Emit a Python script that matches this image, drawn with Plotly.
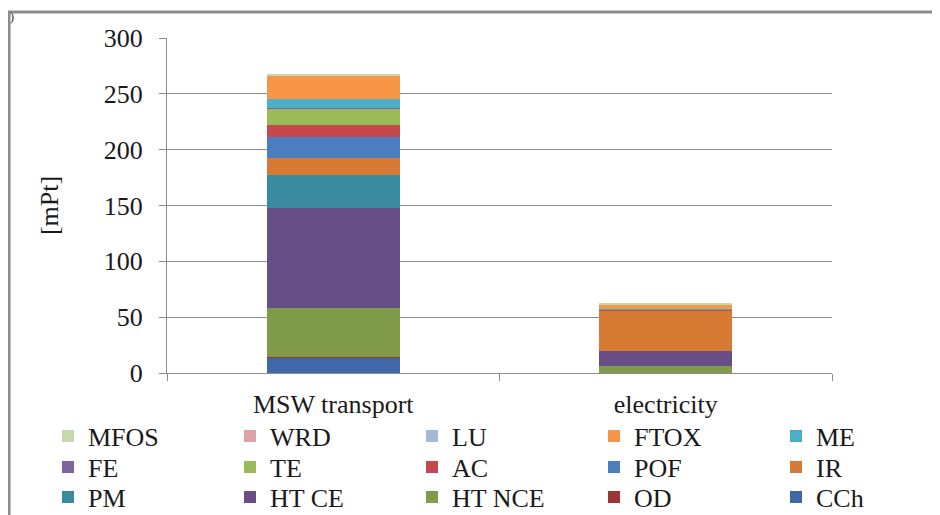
import plotly.graph_objects as go

categories = ["MSW transport", "electricity"]

# stacking order: bottom to top
impact_names = ["CCh", "OD", "HT NCE", "HT CE", "PM", "IR", "POF", "AC",
                "TE", "FE", "ME", "FTOX", "LU", "WRD", "MFOS"]
msw_transport = [14.0, 0.6, 43.3, 90.1, 29.3, 15.0, 19.3, 10.5,
                 14.9, 0.2, 7.9, 21.4, 0.2, 0.1, 0.1]
electricity = [0.3, 0.05, 6.0, 13.6, 0.2, 35.8, 0.2, 0.8,
               0.1, 0.05, 0.1, 4.5, 0.05, 0.02, 0.03]
colors = ["#3f68a8", "#9c3634", "#7f9a48", "#674e86", "#3a8aa0", "#d67a34",
          "#4a7ec0", "#c4484c", "#9bbb59", "#8064a2", "#4bafc8", "#f79646",
          "#a6b9db", "#dca2a6", "#c6d8ad"]

FONT = "'Times New Roman', 'Liberation Serif', 'DejaVu Serif', serif"
W, H = 940, 515
OFF = 8  # the page puts the figure 8px in from the top-left corner
GREY = "#8c8c8c"

# legend rows as in the original (top row first): 3 legends, 5 entries each
legend_rows = [["MFOS", "WRD", "LU", "FTOX", "ME"],
               ["FE", "TE", "AC", "POF", "IR"],
               ["PM", "HT CE", "HT NCE", "OD", "CCh"]]
legend_ids = ["legend", "legend2", "legend3"]
row_of = {n: i for i, row in enumerate(legend_rows) for n in row}

fig = go.Figure()
for name, a, b, c in zip(impact_names, msw_transport, electricity, colors):
    fig.add_trace(go.Bar(x=categories, y=[a, b], name=name, marker_color=c,
                         marker_line_width=0, legend=legend_ids[row_of[name]]))

legend_y = [428, 459, 489]
legend_common = dict(orientation="h", traceorder="reversed",
                     x=40 / W, xanchor="left", yanchor="middle",
                     entrywidth=137, entrywidthmode="pixels",
                     font=dict(family=FONT, size=26), bgcolor="rgba(0,0,0,0)")

fig.update_layout(
    barmode="stack",
    bargap=0.6,
    width=W, height=H,
    margin=dict(l=0, r=0, t=0, b=0, autoexpand=False),
    paper_bgcolor="white", plot_bgcolor="white",
    font=dict(family=FONT, size=26, color="#1a1a1a"),
    legend=dict(legend_common, y=1 - legend_y[0] / H),
    legend2=dict(legend_common, y=1 - legend_y[1] / H),
    legend3=dict(legend_common, y=1 - legend_y[2] / H),
    xaxis=dict(domain=[(167 - OFF) / W, (832 - OFF) / W], showline=True,
               linecolor=GREY, linewidth=1, ticks="outside",
               tickson="boundaries", ticklen=7, tickcolor=GREY,
               ticklabelstandoff=8, automargin=False,
               tickfont=dict(family=FONT, size=26)),
    yaxis=dict(domain=[1 - (373 - OFF) / H, 1 - (38 - OFF) / H],
               range=[0, 300], dtick=50,
               showline=True, linecolor=GREY, linewidth=1, ticks="outside",
               ticklen=7, tickcolor=GREY, ticklabelstandoff=11,
               showgrid=True, gridcolor=GREY, gridwidth=1, automargin=False,
               tickfont=dict(family=FONT, size=26),
               title=dict(text="[mPt]", standoff=37,
                          font=dict(family=FONT, size=26))),
)

# outer frame of the original figure
fig.add_shape(type="rect", xref="paper", yref="paper",
              x0=(9 - OFF) / W, x1=1.05, y0=-0.05, y1=1 - (12 - OFF) / H,
              line=dict(color=GREY, width=3))
fig.add_annotation(text=")", xref="paper", yref="paper", x=0, y=1.0,
                   yanchor="top", showarrow=False,
                   font=dict(family=FONT, size=12), xanchor="left")

fig.write_html("out.html")
